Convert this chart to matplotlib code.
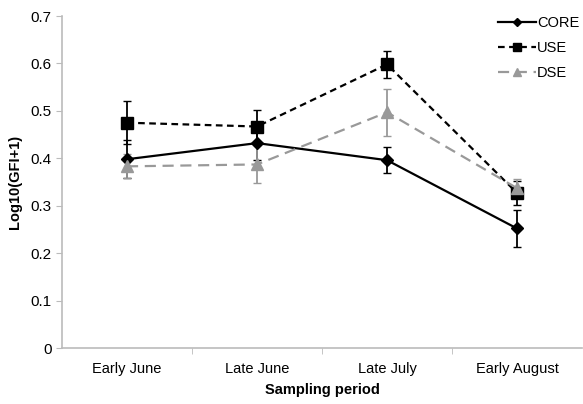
import numpy as np
import matplotlib.pyplot as plt
from matplotlib.lines import Line2D
from matplotlib.ticker import FixedLocator, NullFormatter

periods = ['Early June', 'Late June', 'Late July', 'Early August']
core = [0.398, 0.432, 0.396, 0.252]
core_err = [0.04, 0.035, 0.028, 0.04]
use = [0.475, 0.467, 0.598, 0.327]
use_err = [0.045, 0.035, 0.028, 0.025]
dse = [0.383, 0.387, 0.497, 0.337]
dse_err = [0.025, 0.04, 0.05, 0.02]

plt.rcParams['font.family'] = ['Liberation Sans', 'DejaVu Sans']

fig = plt.figure(figsize=(5.83, 4.04), dpi=100)
ax = fig.add_axes([62 / 583, 56 / 404, 520 / 583, 332 / 404])

x = np.arange(len(periods))
ax.errorbar(x, core, yerr=core_err, color='black', marker='D', markersize=6,
            linestyle='-', linewidth=1.6, capsize=3, elinewidth=1.3)
ax.errorbar(x, use, yerr=use_err, color='black', marker='s', markersize=8,
            linestyle=(0, (3, 2)), linewidth=1.6, capsize=3, elinewidth=1.3)
ax.errorbar(x, dse, yerr=dse_err, color='#999999', marker='^', markersize=8,
            linestyle=(0, (5, 3)), linewidth=1.6, capsize=3, elinewidth=1.3)

ax.set_xlim(-0.5, 3.5)
ax.set_ylim(0, 0.7)
ax.set_yticks(np.arange(0, 0.71, 0.1))
ax.set_yticklabels(['0'] + [f'{v:.1f}' for v in np.arange(0.1, 0.71, 0.1)])
ax.set_xticks(x)
ax.set_xticklabels(periods)
ax.tick_params(axis='x', which='major', length=0, pad=10, labelsize=10.5)
ax.xaxis.set_minor_locator(FixedLocator([0.5, 1.5, 2.5]))
ax.xaxis.set_minor_formatter(NullFormatter())
ax.tick_params(axis='x', which='minor', length=4, color='#bbbbbb', direction='out')
ax.tick_params(axis='y', length=4, color='#bbbbbb', labelsize=11)

for side in ['top', 'right']:
    ax.spines[side].set_visible(False)
for side in ['left', 'bottom']:
    ax.spines[side].set_color('#bbbbbb')
    ax.spines[side].set_linewidth(1.2)

ax.set_ylabel('Log10(GFI+1)', fontweight='bold', fontsize=10.5, labelpad=6)
ax.set_xlabel('Sampling period', fontweight='bold', fontsize=10.5, labelpad=5)

handles = [
    Line2D([], [], color='black', marker='D', markersize=4, linestyle='-', linewidth=1.6),
    Line2D([], [], color='black', marker='s', markersize=6, linestyle=(0, (3, 2)), linewidth=1.6),
    Line2D([], [], color='#999999', marker='^', markersize=6, linestyle=(0, (5, 3)), linewidth=1.6),
]
ax.legend(handles, ['CORE', 'USE', 'DSE'], loc='upper right', bbox_to_anchor=(1.02, 1.04),
          frameon=False, fontsize=10.5, handlelength=2.6, handletextpad=0.1, labelspacing=0.75)

fig.savefig('out.png', dpi=100)
